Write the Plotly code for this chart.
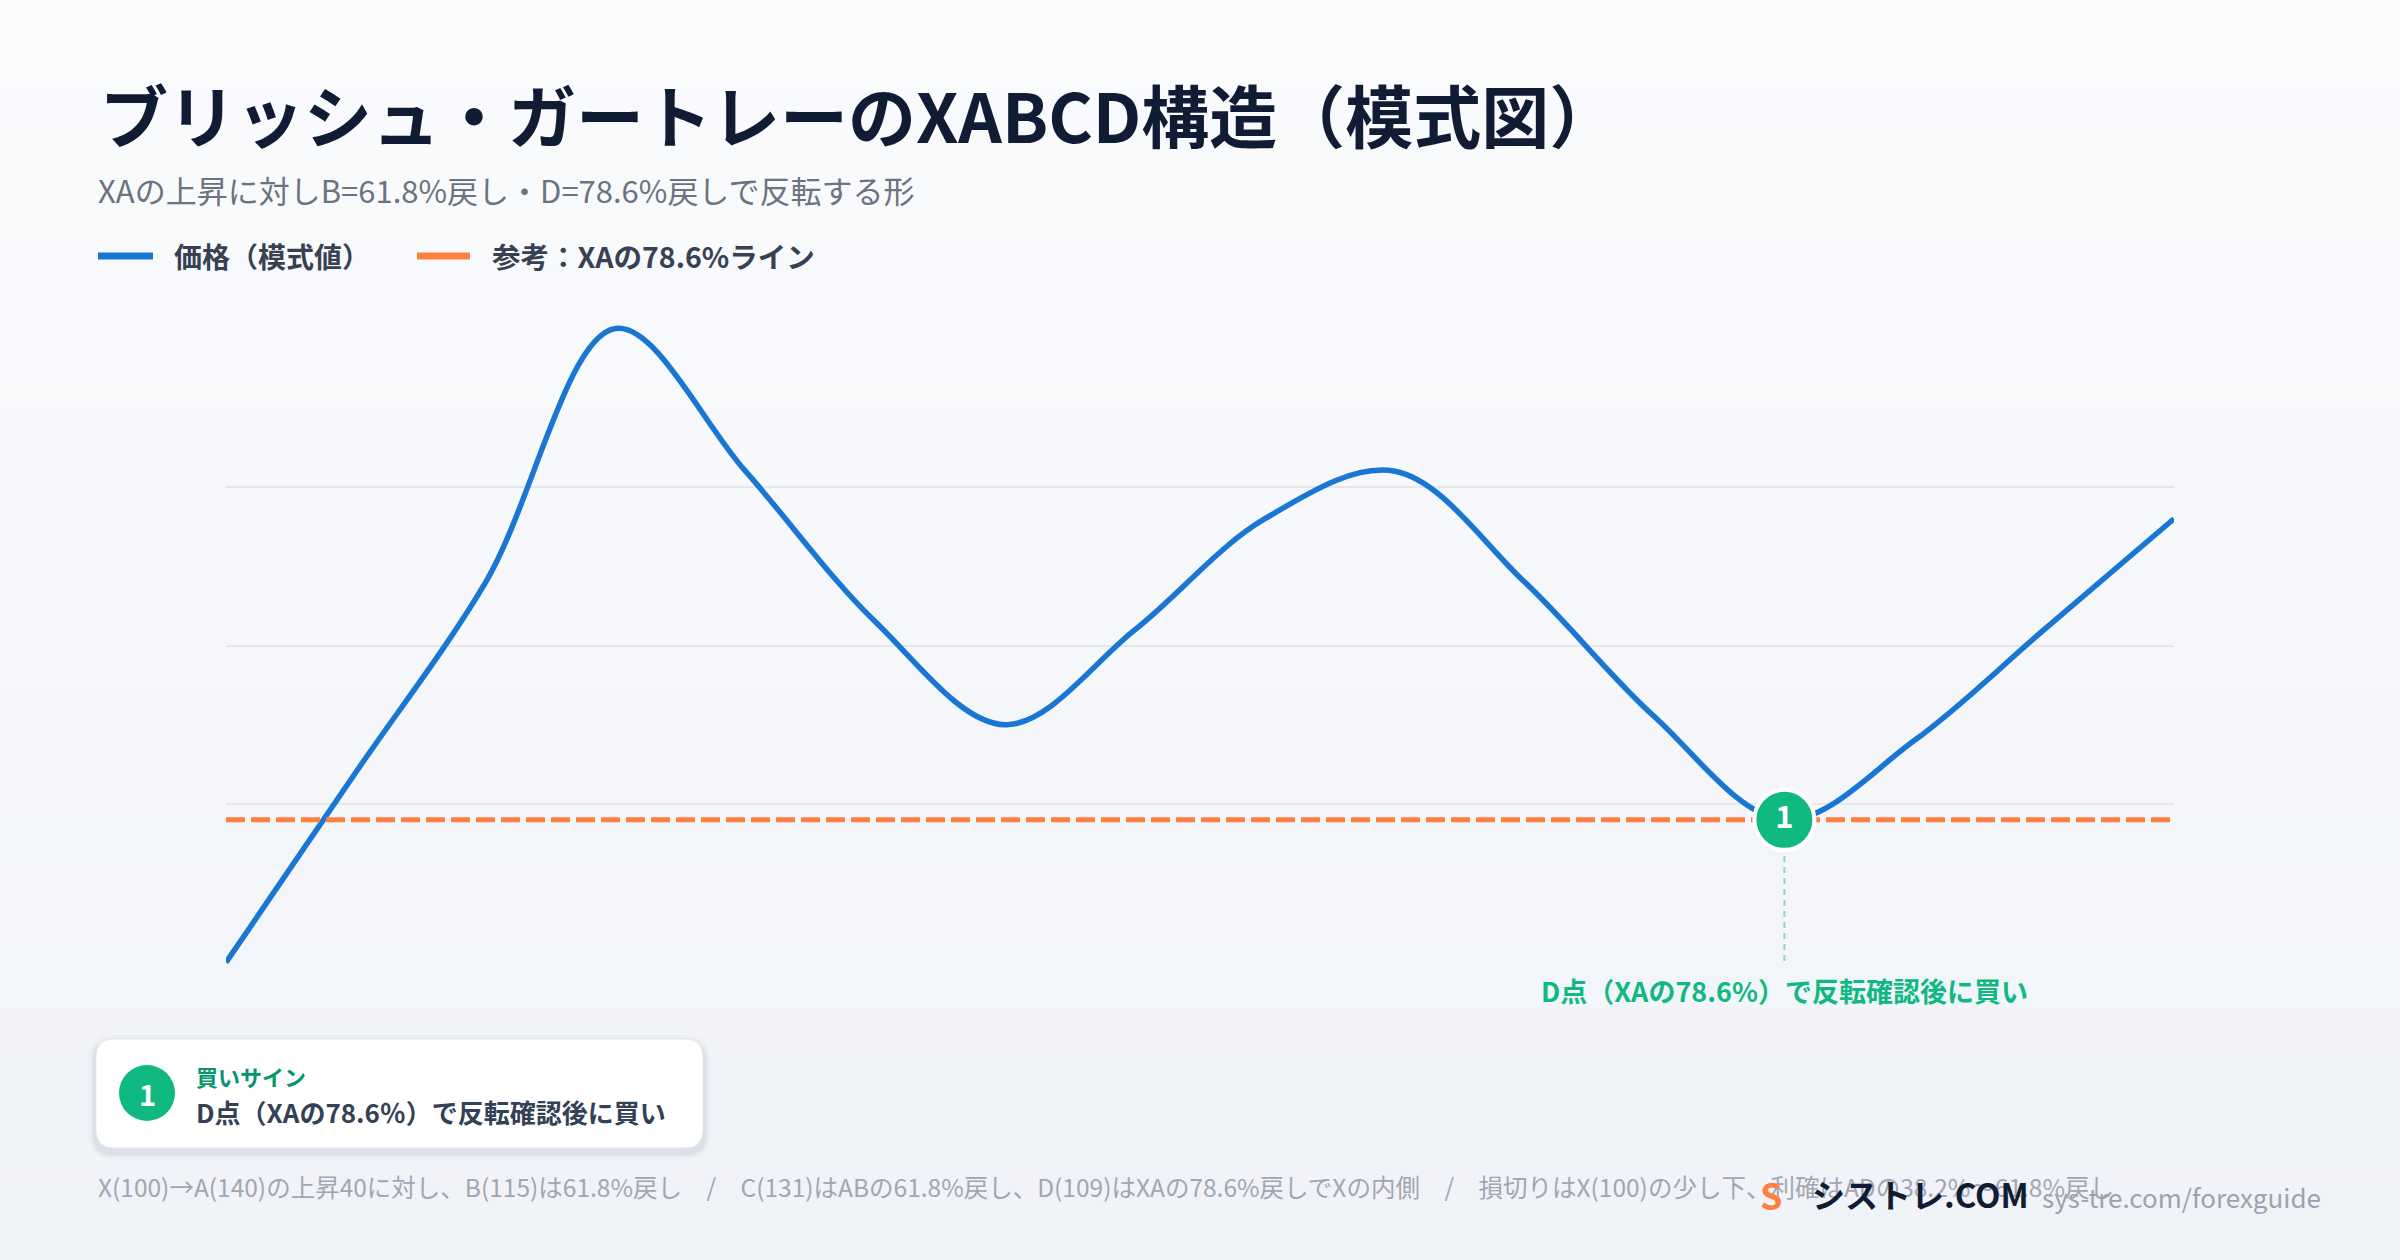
import plotly.graph_objects as go

# ---------------- data ----------------
x_idx = list(range(16))
price = [100, 112, 124, 140, 131, 121.5, 115, 121, 128, 131, 124, 115.5, 109, 114, 121, 128]
ref_level = 109          # XA 78.6% line
signal_x = [12]
signal_y = [109]
signal_label = ["1"]
grid_vals = [110, 120, 130]

title_text = "ブリッシュ・ガートレーのXABCD構造（模式図）"
subtitle_text = "XAの上昇に対しB=61.8%戻し・D=78.6%戻しで反転する形"
legend_names = ["価格（模式値）", "参考：XAの78.6%ライン"]
signal_note = "D点（XAの78.6%）で反転確認後に買い"
box_head = "買いサイン"
box_body = "D点（XAの78.6％）で反転確認後に買い"
footnote = ("X(100)→A(140)の上昇40に対し、B(115)は61.8%戻し　/　C(131)はABの61.8%戻し、"
            "D(109)はXAの78.6%戻しでXの内側　/　損切りはX(100)の少し下、利確はADの38.2%〜61.8%戻し")

# ---------------- layout geometry ----------------
W, H = 2400, 1260
ML, MR, MT, MB = 226, 226, 281, 250
PW, PH = W - ML - MR, H - MT - MB
FONT = "Noto Sans CJK JP, Noto Sans, sans-serif"

BLUE = "#1976d2"
ORANGE = "#ff7f41"
GREEN = "#10b981"


def px(x):
    return (x - ML) / PW


def py(y):
    return (H - MB - y) / PH


fig = go.Figure()

fig.add_trace(go.Scatter(
    x=x_idx, y=price, mode="lines", name=legend_names[0],
    line=dict(color=BLUE, width=5.5, shape="spline", smoothing=1.0),
    cliponaxis=False, showlegend=False, hoverinfo="skip"))

fig.add_trace(go.Scatter(
    x=[x_idx[0], x_idx[-1]], y=[ref_level, ref_level], mode="lines", name=legend_names[1],
    line=dict(color=ORANGE, width=5, dash="19px,6px"),
    cliponaxis=False, showlegend=False, hoverinfo="skip"))

fig.add_trace(go.Scatter(
    x=signal_x, y=signal_y, mode="markers+text", text=signal_label,
    textposition="middle center",
    textfont=dict(family=FONT, size=31, color="white", weight=700),
    marker=dict(size=60, color=GREEN, line=dict(color="white", width=4)),
    cliponaxis=False, showlegend=False, hoverinfo="skip"))

shapes = []
# background gradient
top = (250, 251, 253)
bot = (240, 243, 248)
n = 40
for i in range(n):
    t = i / (n - 1)
    c = tuple(round(top[k] + (bot[k] - top[k]) * t) for k in range(3))
    y0 = H * i / n
    y1 = H * (i + 1) / n + 1
    shapes.append(dict(type="rect", xref="paper", yref="paper",
                       x0=px(0), x1=px(W), y0=py(y1), y1=py(y0),
                       fillcolor="rgb(%d,%d,%d)" % c, line=dict(width=0), layer="below"))

# leader line under signal marker
shapes.append(dict(type="line", xref="x", yref="paper", x0=signal_x[0], x1=signal_x[0],
                   y0=py(961), y1=py(856),
                   line=dict(color="rgba(16,185,129,0.45)", width=2, dash="6px,5px")))


def rrect(x0, y0, x1, y1, r):
    X0, X1 = px(x0), px(x1)
    Y0, Y1 = py(y0), py(y1)
    rx = r / PW
    ry = r / PH
    return (f"M{X0+rx},{Y0} L{X1-rx},{Y0} Q{X1},{Y0} {X1},{Y0-ry} "
            f"L{X1},{Y1+ry} Q{X1},{Y1} {X1-rx},{Y1} L{X0+rx},{Y1} "
            f"Q{X0},{Y1} {X0},{Y1+ry} L{X0},{Y0-ry} Q{X0},{Y0} {X0+rx},{Y0} Z")


# callout box with soft shadow
for k, a in [(8, 0.02), (5, 0.03), (3, 0.04)]:
    shapes.append(dict(type="path", xref="paper", yref="paper",
                       path=rrect(96 - k, 1039 - k + 4, 703 + k, 1148 + k + 4, 18 + k),
                       fillcolor=f"rgba(15,23,42,{a})", line=dict(width=0)))
shapes.append(dict(type="path", xref="paper", yref="paper",
                   path=rrect(96, 1039, 703, 1148, 18),
                   fillcolor="white", line=dict(color="rgba(226,232,240,0.9)", width=1)))
shapes.append(dict(type="circle", xref="paper", yref="paper",
                   x0=px(147 - 28), x1=px(147 + 28), y0=py(1093 + 28), y1=py(1093 - 28),
                   fillcolor=GREEN, line=dict(width=0)))

# legend samples
shapes.append(dict(type="line", xref="paper", yref="paper", x0=px(98), x1=px(153),
                   y0=py(256), y1=py(256), line=dict(color=BLUE, width=7)))
shapes.append(dict(type="line", xref="paper", yref="paper", x0=px(417), x1=px(470),
                   y0=py(256), y1=py(256), line=dict(color=ORANGE, width=7)))

ann = []


def add_text(text, x, y, size, color, weight=400, xanchor="left", xref="paper"):
    ann.append(dict(text=text, x=(px(x) if xref == "paper" else x), y=py(y),
                    xref=xref, yref="paper", xanchor=xanchor, yanchor="middle",
                    showarrow=False,
                    font=dict(family=FONT, size=size, color=color, weight=weight)))


add_text(title_text, 98, 114, 68, "#0f1c33", 700)
add_text(subtitle_text, 96, 190, 31, "#6b7280")
add_text(legend_names[0], 172, 256, 28, "#374151", 700)
add_text(legend_names[1], 490, 256, 28.5, "#374151", 700)
add_text(signal_note, signal_x[0], 990, 27, GREEN, 700, xanchor="center", xref="x")
add_text("1", 147, 1093, 29, "white", 700, xanchor="center")
add_text(box_head, 194, 1076, 22, "#059669", 700)
add_text(box_body, 194, 1111, 26, "#334155", 700)
add_text(footnote, 96, 1186, 24.5, "#a0a6b4")
add_text("S", 1771, 1194, 36, ORANGE, 700, xanchor="center")
add_text("シストレ.COM", 1810, 1194, 33, "#0f1c33", 700)
add_text("sys-tre.com/forexguide", 2040, 1196, 26, "#9ca3af")

fig.update_layout(
    width=W, height=H,
    margin=dict(l=ML, r=MR, t=MT, b=MB, pad=0),
    paper_bgcolor="rgb(245,247,250)",
    plot_bgcolor="rgba(0,0,0,0)",
    font=dict(family=FONT),
    showlegend=False,
    shapes=shapes,
    annotations=ann,
    xaxis=dict(range=[x_idx[0], x_idx[-1]], showgrid=False, zeroline=False,
               showticklabels=False, ticks="", showline=False, fixedrange=True),
    yaxis=dict(range=[97, 143], tickvals=grid_vals, showgrid=True, gridcolor="#e5e7eb",
               gridwidth=1.5, zeroline=False, showticklabels=False, ticks="",
               showline=False, fixedrange=True),
)

fig.write_html("out.html", config={"displayModeBar": False},
               post_script="document.body.style.margin='0';document.body.style.overflow='hidden';")
